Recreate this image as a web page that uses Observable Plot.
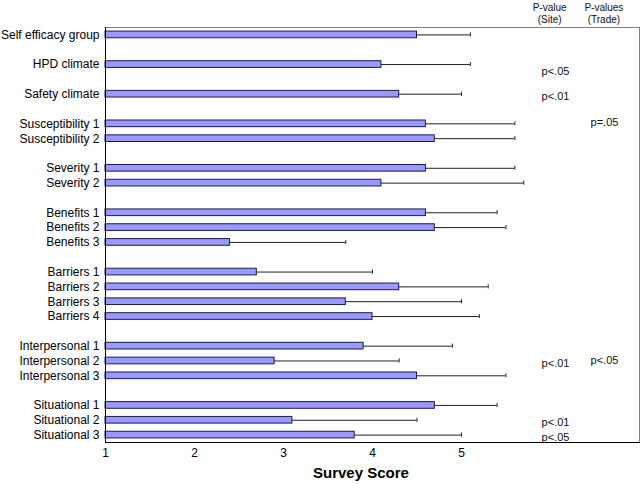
<!DOCTYPE html>
<html><head><meta charset="utf-8">
<script src="https://cdn.jsdelivr.net/npm/d3@7"></script>
<script src="https://cdn.jsdelivr.net/npm/@observablehq/plot@0.6"></script>
<style>body{margin:0;background:#fff;} svg{display:block}</style>
</head><body><div id="chart"></div>
<script>
const categories = ["Self efficacy group","HPD climate","Safety climate","Susceptibility 1","Susceptibility 2","Severity 1","Severity 2","Benefits 1","Benefits 2","Benefits 3","Barriers 1","Barriers 2","Barriers 3","Barriers 4","Interpersonal 1","Interpersonal 2","Interpersonal 3","Situational 1","Situational 2","Situational 3"];
const groups = [0,1,2,3,3,4,4,5,5,5,6,6,6,6,7,7,7,8,8,8];
const means = [4.5,4.1,4.3,4.6,4.7,4.6,4.1,4.6,4.7,2.4,2.7,4.3,3.7,4.0,3.9,2.9,4.5,4.7,3.1,3.8];
const upper = [5.1,5.1,5.0,5.6,5.6,5.6,5.7,5.4,5.5,3.7,4.0,5.3,5.0,5.2,4.9,4.3,5.5,5.4,4.5,5.0];
const pSite = ["","p<.05","p<.01","","","","","","","","","","","","","p<.01","","","p<.01","p<.05"];
const pTrade = ["","","","p=.05","","","","","","","","","","","","p<.05","","","",""];
const xTicks = [1,2,3,4,5];
const pHeaders = ["P-value\n(Site)","P-values\n(Trade)"];
const xLabel = "Survey Score";

const domain = [];
categories.forEach((c,i)=>{ if(i>0 && groups[i]!==groups[i-1]) domain.push("gap"+groups[i]); domain.push(c); });
const rows = categories.map((c,i)=>({category:c, mean:means[i], upper:upper[i], site:pSite[i], trade:pTrade[i]}));

const chart = Plot.plot({
  width:640, height:484, marginLeft:105, marginRight:1, marginTop:27, marginBottom:42,
  style:{fontFamily:"'Liberation Sans', Arial, sans-serif", fontSize:"12px", color:"#000", background:"#fff"},
  x:{domain:[1,7]},
  y:{type:"band", domain, paddingInner:0.55, paddingOuter:0.275, round:false},
  marks:[
    Plot.frame({stroke:"#808080"}),
    Plot.barX(rows,{y:"category", x1:1, x2:"mean", fill:"#9999ff", stroke:"#1c1c48", strokeWidth:1}),
    Plot.ruleY(rows,{y:"category", x1:"mean", x2:"upper", stroke:"#222"}),
    Plot.tickX(rows,{y:"category", x:"upper", stroke:"#222", insetTop:1.3, insetBottom:1.3}),
    Plot.ruleX([1],{stroke:"#000"}),
    Plot.frame({anchor:"bottom", stroke:"#000"}),
    Plot.axisX({ticks:xTicks, tickSize:0, tickPadding:6, tickFormat:d => String(d), label:null, fontSize:12}),
    Plot.axisY({tickSize:0, tickPadding:6, tickFormat:d => d.startsWith("gap") ? "" : d, label:null, fontSize:12}),
    Plot.text(rows.filter((d,i)=>d.site && i===1), {y:"category", x:5.9, text:"site", textAnchor:"start", fontSize:11, fill:"#111", dy:7}),
    Plot.text(rows.filter((d,i)=>d.site && i!==1), {y:"category", x:5.9, text:"site", textAnchor:"start", fontSize:11, fill:"#111", dy:2}),
    Plot.text(rows.filter(d=>d.trade), {y:"category", x:6.45, text:"trade", textAnchor:"start", fontSize:11, fill:"#111", dy:-1}),
    Plot.text(pHeaders, {x:[5.99,6.6], text:d=>d, frameAnchor:"top", lineAnchor:"bottom", dy:-5, fontSize:10, lineHeight:1.15, fill:"#111"}),
    Plot.text([xLabel], {x:3.87, text:d=>d, frameAnchor:"bottom", dy:35, fontSize:15, fontWeight:"bold"})
  ]
});
document.getElementById("chart").appendChild(chart);
</script>
</body></html>
